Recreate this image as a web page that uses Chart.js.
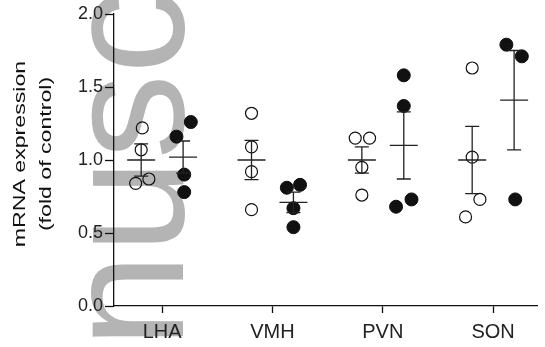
<!DOCTYPE html>
<html>
<head>
<meta charset="utf-8">
<script src="https://cdn.jsdelivr.net/npm/chart.js@4"></script>
<style>
  html, body { margin: 0; padding: 0; background: #fff; }
  canvas { display: block; }
</style>
</head>
<body>
<canvas id="chart" width="545" height="347"></canvas>
<script>
// categories and readings (fold of control)
const categories = ['LHA', 'VMH', 'PVN', 'SON'];
const yTitle = ['mRNA expression', '(fold of control)'];

// open circles (control)
const ctrlValues = [
  [1.22, 1.07, 0.84, 0.87],
  [1.32, 1.09, 0.92, 0.66],
  [1.15, 1.15, 0.95, 0.76],
  [1.63, 1.02, 0.73, 0.61]
];
const ctrlX = [
  [-0.18, -0.19, -0.24, -0.12],
  [-0.19, -0.19, -0.19, -0.19],
  [-0.25, -0.12, -0.19, -0.19],
  [-0.19, -0.19, -0.12, -0.25]
];
const ctrlMean = [1.00, 1.00, 1.00, 1.00];
const ctrlSem = [0.11, 0.135, 0.09, 0.23];

// filled circles (treated)
const treatValues = [
  [1.26, 1.16, 0.90, 0.78],
  [0.81, 0.83, 0.67, 0.54],
  [1.58, 1.37, 0.68, 0.73],
  [1.79, 1.71, 0.73]
];
const treatX = [
  [0.26, 0.13, 0.20, 0.20],
  [0.13, 0.25, 0.19, 0.19],
  [0.19, 0.19, 0.12, 0.26],
  [0.12, 0.26, 0.20]
];
const treatMean = [1.02, 0.71, 1.10, 1.41];
const treatSem = [0.11, 0.07, 0.23, 0.34];

const groupShift = [-0.19, 0.19];
const yTicks = [0, 0.5, 1.0, 1.5, 2.0];

function points(values, offs) {
  const out = [];
  values.forEach((vals, i) => {
    vals.forEach((v, j) => out.push({ x: i + 1 + offs[i][j], y: v }));
  });
  return out;
}

const FONT = '"Liberation Sans", Arial, sans-serif';

// big grey letters behind the plot, plus the stretched y title
const backdrop = {
  id: 'backdrop',
  beforeDraw(chart) {
    const ctx = chart.ctx;
    ctx.save();
    ctx.fillStyle = '#fff';
    ctx.fillRect(0, 0, chart.width, chart.height);
    ctx.fillStyle = 'rgb(180,180,180)';
    ctx.font = '170px ' + FONT;
    ctx.textBaseline = 'alphabetic';
    ctx.translate(183, 348);
    ctx.rotate(-Math.PI / 2);
    ctx.fillText('nusc', 0, 0);
    ctx.restore();

    // axis title, drawn taller than wide like the original
    ctx.save();
    ctx.fillStyle = '#111';
    ctx.font = '17px ' + FONT;
    ctx.textAlign = 'center';
    ctx.textBaseline = 'middle';
    const cy = (chart.chartArea.top + chart.chartArea.bottom) / 2 - 6;
    [20, 46].forEach((cx, k) => {
      ctx.save();
      ctx.translate(cx, cy);
      ctx.rotate(-Math.PI / 2);
      ctx.scale(1.36, 1);
      ctx.fillText(yTitle[k], 0, 0);
      ctx.restore();
    });
    ctx.restore();
  }
};

// mean line + SEM whiskers
const meanSem = {
  id: 'meanSem',
  afterDatasetsDraw(chart) {
    const { ctx, scales: { x, y } } = chart;
    ctx.save();
    ctx.strokeStyle = '#222';
    ctx.lineWidth = 1.3;
    [[ctrlMean, ctrlSem], [treatMean, treatSem]].forEach(([means, sems], g) => {
      means.forEach((m, i) => {
        const cx = x.getPixelForValue(i + 1 + groupShift[g]);
        const ym = y.getPixelForValue(m);
        const yt = y.getPixelForValue(m + sems[i]);
        const yb = y.getPixelForValue(m - sems[i]);
        ctx.beginPath();
        ctx.moveTo(cx - 14, ym); ctx.lineTo(cx + 14, ym);
        ctx.moveTo(cx, yt); ctx.lineTo(cx, yb);
        ctx.moveTo(cx - 7, yt); ctx.lineTo(cx + 7, yt);
        ctx.moveTo(cx - 7, yb); ctx.lineTo(cx + 7, yb);
        ctx.stroke();
      });
    });
    ctx.restore();
  }
};

new Chart(document.getElementById('chart'), {
  type: 'scatter',
  data: {
    datasets: [
      {
        data: points(ctrlValues, ctrlX),
        pointRadius: 6,
        pointBackgroundColor: 'rgba(255,255,255,0)',
        pointBorderColor: '#111',
        pointBorderWidth: 1.2
      },
      {
        data: points(treatValues, treatX),
        pointRadius: 6.5,
        pointBackgroundColor: '#111',
        pointBorderColor: '#111',
        pointBorderWidth: 1
      }
    ]
  },
  options: {
    responsive: false,
    animation: false,
    layout: { padding: { top: 14, left: 0, right: 0, bottom: 0 } },
    plugins: { legend: { display: false }, tooltip: { enabled: false } },
    scales: {
      x: {
        type: 'linear',
        min: 0.5637,
        max: 4.402,
        afterBuildTicks(scale) { scale.ticks = categories.map((c, i) => ({ value: i + 1 })); },
        afterFit(scale) { scale.height = 41; },
        border: { display: true, color: '#111', width: 1.3 },
        grid: { drawOnChartArea: false, tickLength: 7, tickColor: '#111', tickWidth: 1.3 },
        ticks: {
          color: '#222',
          font: { family: FONT, size: 20 },
          padding: 7,
          maxRotation: 0,
          callback: v => categories[Math.round(v) - 1]
        }
      },
      y: {
        min: 0,
        max: 2,
        afterBuildTicks(scale) { scale.ticks = yTicks.map(v => ({ value: v })); },
        afterFit(scale) { scale.width = 114; },
        border: { display: true, color: '#111', width: 1.3 },
        grid: { drawOnChartArea: false, tickLength: 9, tickColor: '#111', tickWidth: 1.3 },
        ticks: {
          color: '#222',
          font: { family: FONT, size: 18 },
          padding: 2,
          callback: v => v.toFixed(1)
        }
      }
    }
  },
  plugins: [backdrop, meanSem]
});
</script>
</body>
</html>
